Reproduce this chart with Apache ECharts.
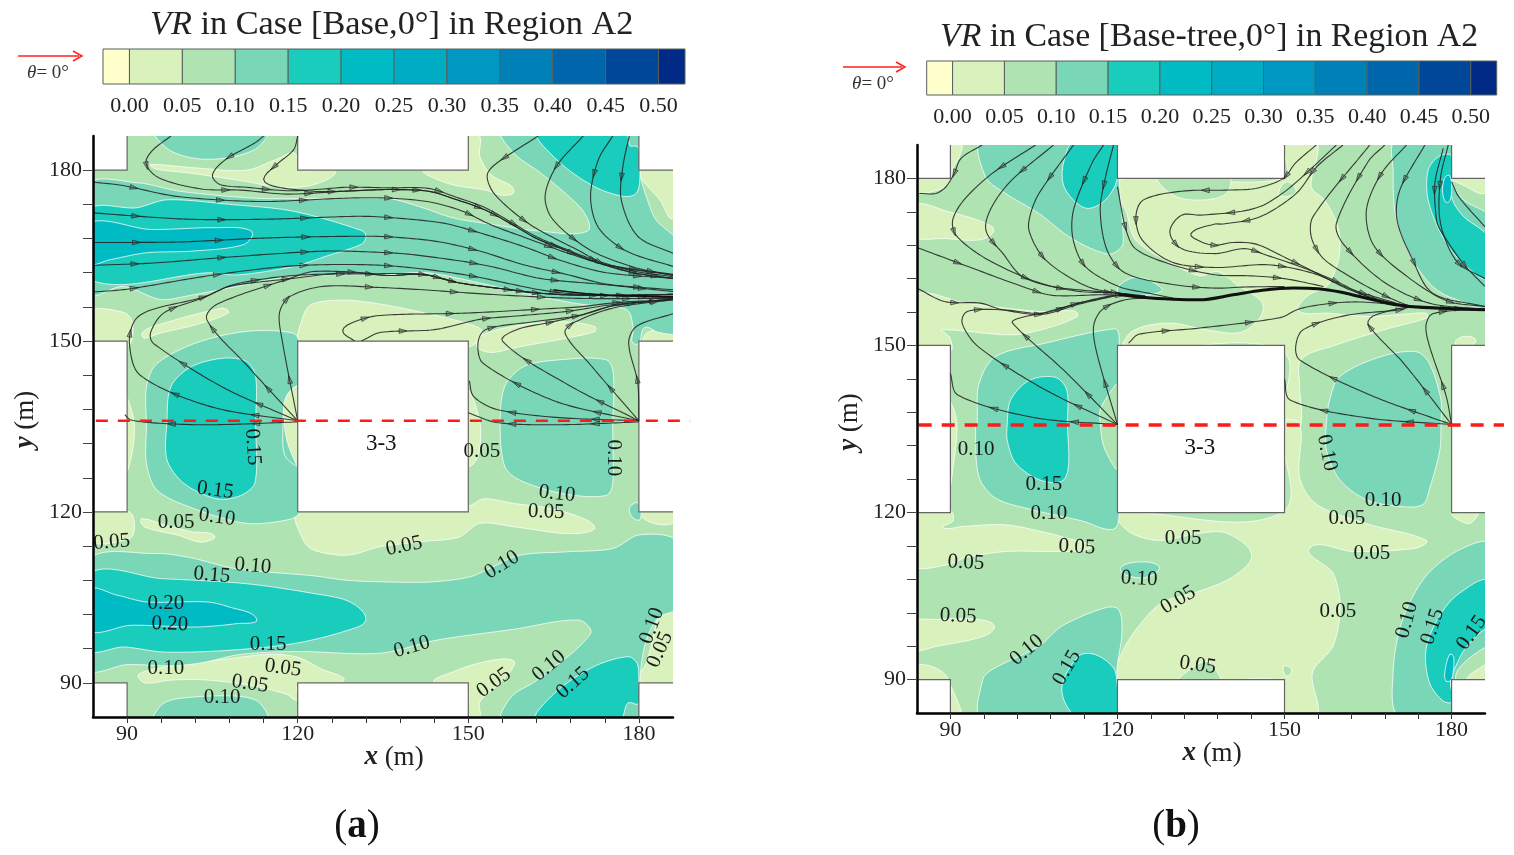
<!DOCTYPE html>
<html><head><meta charset="utf-8">
<style>html,body{margin:0;padding:0;background:#fff}#c{width:1514px;height:855px}</style>
<script src="https://cdn.jsdelivr.net/npm/echarts@6/dist/echarts.min.js"></script>
</head><body><div id="c"></div>
<script>
// ---------- legend ----------
const barEdges=[-0.025,0,0.05,0.10,0.15,0.20,0.25,0.30,0.35,0.40,0.45,0.50,0.525];
const barTicks=[0,0.05,0.10,0.15,0.20,0.25,0.30,0.35,0.40,0.45,0.50];
const bandColors=['#ffffcc','#d9f1bc','#afe3b2','#79d6b7','#1accbc','#00bbc4','#00acc4','#0098c2','#0082b8','#0066ab','#00479a','#002a85'];
// ---------- axes ----------
const axisMin=84, axisMax=186, axisStep=6;
const majorTicks=[90,120,150,180];
// ---------- buildings (metres) ----------
const buildings=[[84,84,90,90],[120,84,150,90],[180,84,186,90],[84,120,90,150],[120,120,150,150],[180,120,186,150],[84,180,90,186],[120,180,150,186],[180,180,186,186]];
const buildingEdges=[[[84,90],[90,90],[90,84]],[[120,84],[120,90],[150,90],[150,84]],[[186,90],[180,90],[180,84]],[[84,120],[90,120],[90,150],[84,150]],[[120,120],[150,120],[150,150],[120,150],[120,120]],[[186,120],[180,120],[180,150],[186,150]],[[84,180],[90,180],[90,186]],[[120,186],[120,180],[150,180],[150,186]],[[186,180],[180,180],[180,186]]];
const baseArea=[[80,80],[190,80],[190,190],[80,190]];

// ---------- panel (a): contour regions, metres ----------
const aPaleTop=[[94,181],[102,180.4],[111,180],[116.5,182],[119.5,183],[120.5,180],[126.5,180],[123,177.5],[117,177],[111,178],[101,179.5],[95,180.2]];
const aPaleAlley=[[142,180],[149,180.5],[150,186],[152,186],[152,182.5],[154,179.2],[157.6,177.2],[158,176],[156,175.6],[153,176.5],[147,177.5],[142.7,179.2]];
const aPaleCorner=[[180,180],[187,180],[186,171.6],[183.7,174.8],[181,177.8]];
const aPaleW=[[83,155],[89.5,155],[91,153],[90,149],[83,149]];
const aPaleLobe=[[92.6,151.4],[94.7,152.6],[106.9,155.8],[107.9,155],[102.2,152.9],[95.8,151.4],[93,150.5]];
const aPaleMid=[[120.5,149],[121,154.5],[122.5,156.5],[128,157.2],[134.5,156.5],[142,155],[150,153],[152.5,151.5],[150,149]];
const aPaleLobe2=[[152,150.8],[158,152.6],[167,153.4],[172.3,152.5],[172.3,151.7],[167.7,150.6],[158,148.8],[154,148],[151.5,149]];
const aPaleCol1=[[89.8,140],[91,137],[91.3,134],[90.8,130],[89.8,127]];
const aPaleCol2=[[117.6,139],[118.5,141],[120.2,142],[120.2,128],[119,130],[118,133],[117.6,136]];
const aPaleCol3=[[149.8,141],[152,136],[152,131],[151,128.5],[149.8,128]];
const aPaleSW=[[83,120.5],[90.4,120],[91.3,117.3],[90.4,115.3],[83,115]];
const aPaleSW2=[[92.5,118.8],[97,117.6],[101.5,116.5],[105.4,115.8],[103,114.7],[99,115.9],[93,117.4]];
const aPaleS=[[120,120],[121,115],[122.8,113.3],[128.7,112.4],[134.5,113.9],[142,114.8],[148.4,115.6],[152,118],[158,117.4],[167.5,116.2],[172.2,117],[171,118.5],[165,120.5],[158,121.5],[152.6,122.3],[150,121]];
const aPaleLow=[[92,91.5],[98,93],[106,94],[115,95],[120,94.5],[124,92.5],[128,90.3],[120,89.5],[120,87],[118,88],[112,89.5],[104,90.5],[98,90.5],[93,90]];
const aPaleLow2=[[144,90],[147,91.8],[152,93.5],[156.7,94.2],[158.2,93.5],[155.6,90],[152,86.6],[152,84],[149.8,84],[149.8,89]];
const aPaleE=[[187,103.6],[183.5,101.5],[182.5,98],[181.5,94],[180,89.5],[187,89.5]];
const aPaleNE=[[180,120.3],[187,120.3],[186,118],[182.5,118],[180.2,119.4]];
const aPaleSE=[[181,151],[183,152],[186,151.7],[187,149],[181,149]];
const aB3Top=[[95,187],[97.3,183.6],[102.5,182],[108.4,182.3],[113,184],[114.6,187]];
const aB3Jet=[[83,177.2],[91.7,177.8],[99.3,176.3],[112.2,175.1],[122.7,175],[136,175],[142,173.4],[147.4,171.6],[154,170.5],[162.6,169.3],[171,169.3],[170.4,172.5],[167,176],[162.6,179.6],[158,183],[155.9,187],[180,187],[180.2,179.5],[181.3,175.4],[183,171.3],[187,167],[187,151.7],[183.5,151.5],[181,152.4],[180,149.5],[178.8,149.8],[179,152],[178,155.4],[174.3,156],[169,156.6],[159.7,158.4],[152,160.2],[142.7,162],[136,161.7],[119.2,161.4],[109.3,159.6],[100.5,157.9],[95.8,157.3],[89.3,159.6],[83,158.4]];
const aB3Alley=[[93.4,135],[93.4,142],[95.2,146],[102.2,149.7],[111,151.7],[119.2,151.4],[120.3,149.7],[120.3,128],[119.8,128],[117.7,130],[117.4,135],[118,140.3],[120.2,142],[120.3,120],[118.6,118.7],[111,118],[101.7,120.6],[95.3,123.8],[93.4,128.5]];
const aB3Alley2=[[155.6,135.5],[156.4,142],[159.7,145.5],[166,146.7],[174.3,146.7],[175.5,144.3],[175.4,135],[175.4,125],[174.3,122.9],[166.7,123.2],[159,125.6],[156.4,128]];
const aB3Dot=[[178.3,120.6],[179.6,121.7],[180.2,121],[180.2,118.6],[179,118.9]];
const aB3Low=[[83,111.2],[95,112.7],[101,112],[109.3,110],[122.7,108.8],[128.6,108],[136,107.7],[143.3,107.7],[150.3,108.6],[154.4,110.4],[159,112.4],[167.3,113],[175.5,113.6],[180.2,116],[187,114.5],[187,103.3],[183.5,101.5],[181.3,97.5],[180.2,91],[180.2,84],[156,83],[157.5,87.5],[162,90.4],[171.5,98.6],[169.5,101],[158,99.4],[144.5,97.5],[134.5,95.2],[120,95.5],[110,95],[103,93.5],[98,93],[90,93.2],[83,92.6]];
const aB3Bot=[[94.8,83],[96.4,86.4],[101.7,87.5],[110,87.6],[113.4,86.4],[114.6,83]];
const aB4Jet=[[83,172.8],[91.7,173.4],[97,174.8],[108,174],[119.2,172.8],[131.5,169.3],[132,168.2],[131.2,167],[125.3,165],[119.3,163.1],[109.3,161.6],[104.6,162],[83,161]];
const aB4NE=[[162.3,187],[165.5,181.9],[172,177.2],[177.3,175.4],[179.6,176],[180.2,179.5],[179.8,184.2],[178.5,184.2],[177.5,187]];
const aB4Alley=[[97,135.7],[97.7,142],[101.3,145.5],[107,147],[111,146.4],[112.6,143.8],[112.6,135.5],[112.5,125.2],[110,122.9],[105.8,122.3],[100,125],[97,129.2]];
const aB4Low=[[83,108.9],[96,108.3],[111,107.4],[122.7,105.7],[129.2,104.2],[132,101.1],[128.7,99.2],[119.4,96.9],[107.7,95.7],[96.5,95.4],[89.4,96.3],[83,96]];
const aB4SE=[[162,83],[165,88],[172,92.8],[178.1,94.6],[179.7,93.4],[180,90.3],[180,86.3],[178.1,86.5],[176.4,83]];
const aB5Jet=[[83,170.6],[94,169.6],[105.3,169.9],[111.9,169.3],[110.7,167],[101.6,165.8],[93.4,165.5],[87,164.3],[83,163.7]];
const aB5Low=[[83,106.3],[88.2,105.4],[93.4,104.2],[104,104.2],[108,103.3],[112.8,101.2],[109.3,100.4],[102.2,99.8],[90.6,100.1],[83,99.3]];
// [band index into bandColors, region]
const aRegions=[[2,baseArea],[1,aPaleTop],[1,aPaleAlley],[1,aPaleCorner],[1,aPaleW],[1,aPaleLobe],[1,aPaleMid],[1,aPaleLobe2],[1,aPaleCol1],[1,aPaleCol3],[1,aPaleSW],[1,aPaleSW2],[1,aPaleS],[1,aPaleLow],[1,aPaleLow2],[1,aPaleE],[1,aPaleNE],[1,aPaleSE],
 [3,aB3Top],[3,aB3Jet],[3,aB3Alley],[3,aB3Alley2],[3,aB3Dot],[3,aB3Low],[3,aB3Bot],[1,aPaleCol2],[4,aB4Jet],[4,aB4NE],[4,aB4Alley],[4,aB4Low],[4,aB4SE],[5,aB5Jet],[5,aB5Low]];

// ---------- panel (a): streamlines, metres, in flow direction ----------
const aTailA=[[136,176.6],[143,176.3],[148,174.8],[153,173],[158,170.3],[162,168],[167,166],[172,164],[179,162],[186,161]];
const aTailB=[[136,176.9],[143,176.8],[148,175.2],[153,173.4],[158,170.6],[162,168.3],[167,166.2],[172,164.3],[179,162.3],[186,161.3]];
const aTailC=[[136,161.5],[142,161.7],[148.5,160.2],[155,159.3],[162.6,158.4],[172,158],[186,158.2]];
const aTailD=[[169.6,154.5],[175.5,156.2],[186,157.4]];
const aStreams=[
 [[97.7,186],[94.5,183.5],[93.3,181.3],[95,179],[99,177.5],[104,176.6],[110,176.5],[118,175.8],[128,176.3]].concat(aTailA),
 [[114,186],[112.5,184.8],[107.5,182],[105,179.2],[106.3,177.5],[111,177],[118,176.4],[123.3,176.6],[128.6,177]].concat(aTailB),
 [[120,186],[119.3,183.6],[116.3,181],[114,178.4],[115.7,177.2],[122.7,176.3],[128,176.3]].concat(aTailA),
 [[84,177.9],[89.3,177.3],[98.7,175.4],[113.4,174.5],[128.6,175.1],[136,175.1],[143.3,174.4],[149,172.8],[154,170.4],[161,167.8],[167.3,165.5],[174.3,163.4],[186,161.7]],
 [[84,172.5],[100.5,171.4],[115,171.4],[130.4,171.9],[136,171.7],[145.6,170.7],[152,169],[159.7,166.6],[166.7,164],[174.3,162],[186,161]],
 [[84,167.3],[99.3,167.4],[114.5,168.1],[129.8,168.4],[136,168.3],[144.4,167.5],[152,165.8],[159.7,163.4],[167.3,161.7],[174.3,160],[186,159]],
 [[84,163.3],[94.6,163.7],[110,164.9],[125.3,165.8],[136,165.5],[140,165.2],[149,164],[154.4,163],[162.6,161],[173,160],[186,158.7]],
 [[84,158.6],[90,159.1],[104.6,161.5],[119.2,163.2],[134.7,163.3],[149,161.7],[162.6,159],[169.6,158.2],[186,157.6]],
 [[120,136],[105,138.4],[92.3,144],[90.4,149.6],[91.4,153.7],[94.3,155.5],[103.4,157.7],[108,159.6],[119.2,161],[128.6,162]].concat(aTailC),
 [[120,136],[107,141.8],[94.6,149.6],[94.1,151.4],[96.4,154.9],[103.4,157.6],[108.7,159.9],[119.2,161.5],[133,161.8]].concat(aTailC.slice(1)),
 [[120,136],[111,145.8],[104,153.8],[105.7,156.4],[118.6,161],[122.7,162.2],[131.5,162]].concat(aTailC),
 [[120,136],[117.2,150.5],[116.8,155],[118.6,157.8],[124.5,159.6],[134.5,159.4],[142,159],[153.8,158.2],[169,157.5],[186,157.5]],
 [[130,150],[127.9,151.8],[130,153.4],[134.5,154.5],[149.4,154.9],[164.4,155.7],[169.6,156],[175.5,156.7],[186,157.3]],
 [[131.2,150],[134.5,151.5],[144,152],[152,153.8],[158.5,154.4],[167.3,155.2],[175.5,156.4],[186,157.2]],
 [[180,136],[165.4,139.4],[152.6,146.1],[151.7,149.7],[153,152],[160.8,153.3]].concat(aTailD),
 [[180,136],[167.6,142.3],[156,150],[158.5,152],[165,153.4]].concat(aTailD),
 [[180,136],[171.5,145.8],[167,151.4],[168.5,153.2],[175.5,155.8],[186,157.3]],
 [[180,136],[179.8,142.7],[178.2,149.7],[179.6,152.6],[186,154.8]],
 [[180,135.8],[165.4,135.3],[155,135.7],[150,137.4]],
 [[180,136],[165.4,136.6],[155,138],[150.9,140.3],[150.2,143]],
 [[120,135.8],[104.5,135.3],[95.2,135.6],[90.5,136.2],[89.6,137.1]],
 [[162.3,186],[154.7,181],[153.3,179],[154.7,175.7],[160.8,170.5],[169.6,165.8],[174.3,163.4],[186,161.6]],
 [[170.2,186],[165.5,180.7],[163.5,175.4],[164.9,171.3],[171.4,166],[179,163],[186,161.5]],
 [[175.4,186],[172.9,181.9],[171.5,175.4],[172.9,169.9],[177.8,165.8],[186,163.1]],
 [[178.3,186],[177.2,180.7],[176.9,174.8],[179.8,168.4],[186,165.4]]
];
const aThick=[[165,159],[172,158.2],[186,157.8]];

// ---------- panel (b): contour regions, metres ----------
const bPaleN=[[120,179.7],[150,180],[150,187],[155.7,187],[154.8,178.5],[157.2,176.1],[159.6,171.3],[159.9,166.6],[158.7,162.4],[157.5,160.6],[154,158.8],[152.5,156.2],[158,155.8],[165,155.2],[170,155.5],[175.5,155.8],[175.7,155],[168.5,153],[159,150],[153,147.5],[152.7,143],[152.7,135],[149.5,135],[149.5,149],[121,149],[122,152],[125,153.5],[130,154],[136,152.8],[142.6,152.5],[146.2,157],[141.4,160.9],[138,163.3],[134.8,162.5],[128.5,165.4],[123.2,169],[121.7,173.7]];
const bLobeN=[[127.3,180.5],[139.9,180.5],[139.6,177.3],[134.8,176.1],[130,177]];
const bLobeDot=[[148.9,177.3],[150.4,179.4],[152.1,177.6],[150,176.7]];
const bPaleS=[[120,119.8],[122,116.6],[127.3,115],[134.8,116.3],[139.6,116.3],[144.1,112.4],[140.8,108.5],[134.8,105.9],[128,103.8],[123.8,99.6],[120.8,94.8],[119.9,90],[138,89.5],[149.5,89.5],[149.5,83],[155.7,83],[155,91.2],[158.7,96],[160,103.1],[158.7,109.1],[154.5,113.6],[162.3,113],[173.6,113.6],[175.5,115],[164.7,118],[155.7,121.5],[152.7,126.3],[152.7,136],[149.5,136],[149.5,120]];
const bLobeS=[[131,89.5],[133.3,92],[136,93.3],[137.2,92.3],[138.4,89.5]];
const bLobeSDot=[[149.8,92.4],[151.3,91.8],[150.4,90.6]];
const bPaleTL=[[89.6,186.5],[92,186.5],[91.5,183.7],[90.5,182],[90,179.5],[88,178],[83,177.5],[83,180.5],[89.6,180.5]];
const bPaleW1=[[83,175.2],[89.7,174],[95.7,172.2],[97.8,170.7],[95.4,169],[89.2,169.2],[83,169.8]];
const bPaleW2=[[83,158.8],[92.8,157.6],[105.9,156.1],[112.4,156.2],[112.8,155.2],[107,153],[101,151.9],[88.3,152.8],[89.8,151.6],[90,149],[83,149]];
const bPaleCol1=[[89.7,140],[90.8,138],[91.2,135],[90.6,129],[89.7,124]];
const bPaleNE=[[180,180.3],[187,180.3],[186,177.3],[182.7,178.5]];
const bPaleE=[[180.6,150.3],[182,151.6],[184.4,151],[183,149.8]];
const bPaleE2=[[180,120.3],[183,118],[184.7,119.5],[184.7,120.3]];
const bPaleSW1=[[83,120.3],[90,120.3],[90.5,118.5],[88.6,117.3],[92.1,117.5],[99.9,117.8],[107.6,116.3],[110.5,115.5],[115.4,114],[114,113.2],[108.7,113],[99.9,113],[92.7,111.9],[89.8,110.7],[83,110.7]];
const bPaleSW2=[[83,100.2],[87.6,100.8],[95,100.8],[97.9,99.6],[96,97.8],[87.6,96],[83,95.5]];
const bPaleSW3=[[83,89.5],[83,92.4],[86.5,92.4],[89,91],[90,89],[91.7,85],[92,83],[89.7,83],[89.7,89.5]];
const bB3Top=[[95.8,187],[96.3,180.3],[99.9,177.3],[105.9,173.7],[111.8,169.2],[118.4,166.4],[120.8,167.8],[121,170.1],[120.3,180],[120.3,187]];
const bB4Top=[[112.4,187],[110.3,182.7],[110.3,178.8],[112.4,175.8],[114.8,174.6],[117.8,176.1],[119.9,179.7],[120.3,187]];
const bB3Dot=[[120.2,160.6],[122.6,162.1],[125.5,161.8],[127.9,159.7],[120.2,159.3]];
const bB3Alley=[[94.8,135.8],[95.1,143],[98.1,148],[107,150.4],[119.6,153],[120.3,151.6],[120.3,120],[119.3,117],[113.6,118.5],[104.7,120.5],[98.1,122.6],[95.1,126.5],[94.5,135.7]];
const bB2Col=[[116.9,138.5],[119.7,143],[120.3,143],[120.3,128],[119.7,127.8],[117.5,132],[116.9,136]];
const bB4Alley=[[100.2,135.8],[100.8,140.2],[104.1,143.7],[108.8,144.3],[110.9,142],[111,135.8],[111.2,128.3],[110,125.6],[105.9,125.9],[101.7,128.9],[100.2,133]];
const bB3Alley2=[[157.5,135.8],[158.1,140.2],[159.9,144.4],[167,147.9],[173.6,148.9],[176,146.8],[178.1,140.2],[178.1,135.8],[177.9,131.3],[176,124.1],[174.8,121.4],[170.7,121.1],[164.7,122.3],[159.9,125.9],[157.5,131.3]];
const bB3NE=[[170,187],[169.5,181.5],[170,173],[173,165.4],[176.6,160.6],[180.2,158.5],[187,157.3],[187,172.8],[182.2,176.1],[180,179.7],[180,187]];
const bB4NE=[[177.8,184],[175.8,181.5],[175.8,176.1],[178.4,169.5],[182,164.8],[187,162.1],[187,169],[182,173.3],[180,176.7],[180,184]];
const bB5NE=[[178.7,180],[179.6,180.6],[180,178],[179.3,175.6],[178.4,177.3]];
const bB3Low=[[95.8,83],[95.8,90],[97.5,91.8],[105.9,96],[110,99.6],[117.8,102.9],[120.2,102.6],[120.8,98.4],[119.9,91.8],[119.7,83]];
const bB4Low=[[113,83],[110,88.2],[113,94.2],[116,94.5],[119.3,92.1],[119.9,89.4],[119.9,83]];
const bB3Mid=[[120.5,110],[122.6,111],[126.1,111],[127.6,110],[125,108.3],[121.5,108.8]];
const bB3SE=[[187,114.2],[181.4,113.3],[175.4,108.6],[171.2,100.8],[169.5,91.3],[170.7,83],[180,83],[180,90],[187,97]];
const bB4SE=[[187,107.6],[181.4,105.5],[177.8,101.4],[175.4,95.4],[176,89.5],[178.4,86.2],[180,86],[180,90.5],[187,98.2]];
const bB3SE2=[[180,90.6],[182.7,95.9],[187,98.8],[187,89.5],[180,89.5]];
const bB2SE=[[181,91.5],[183.9,94.4],[187,95.6],[187,89.5],[181,89.5]];
const bPaleSE=[[182.7,89.5],[186,92.7],[187,93],[187,89.5]];
const bB5SE=[[178.8,91.4],[179.7,94.6],[180.4,94],[180,90],[179,89.7]];
const bRegions=[[2,baseArea],[1,bPaleN],[2,bLobeN],[2,bLobeDot],[1,bPaleS],[2,bLobeS],[2,bLobeSDot],[1,bPaleTL],[1,bPaleW1],[1,bPaleW2],[1,bPaleCol1],[1,bPaleNE],[1,bPaleE],[1,bPaleE2],[1,bPaleSW1],[1,bPaleSW2],[1,bPaleSW3],
 [3,bB3Top],[3,bB3Dot],[3,bB3Alley],[2,bB2Col],[3,bB3Alley2],[3,bB3NE],[3,bB3Low],[3,bB3Mid],[3,bB3SE],[4,bB4Top],[4,bB4Alley],[4,bB4NE],[4,bB4Low],[4,bB4SE],[3,bB3SE2],[2,bB2SE],[1,bPaleSE],[5,bB5NE],[5,bB5SE]];

// ---------- panel (b): streamlines ----------
const bTrunk=[[120.2,159.2],[125,158.6],[130,158.3],[134.8,158.2],[140.8,159.1],[146,159.9],[151.5,160.3],[156,160.2],[160,159.6],[165.9,158.2],[170,157.3],[175,156.8],[186,156.4]];
const bJoin=[[173,157],[180,156.6],[186,156.4]];
const bStreams=[
 [[95.7,186],[91.9,183.6],[90.7,180.9],[89.2,178.5],[87.4,177.3],[84.4,177.3]],
 [[105.3,186],[97.5,180.9],[92.4,176.1],[90.4,172.5],[91,169.8],[95.7,166],[102.9,162.4],[108.3,160.6],[113,160],[120.2,159.4],[125,158.9]],
 [[108.5,186],[99.9,178.5],[96.3,171.3],[99.6,166.3],[103.2,162.2],[112.4,159.8],[120.2,159.4],[125,158.7]],
 [[112.1,186],[105.9,177.3],[104.4,173.7],[104.1,170.7],[106.5,166],[110.6,162.7],[115.4,160.3],[120.2,159.4],[125,158.7]],
 [[117.5,186],[115.4,182.7],[112.1,174.3],[112,169.2],[114.2,164.2],[120.2,160.6],[125.5,159.4],[130,158.5]],
 [[119.3,186],[117.8,180],[116.9,174.3],[118.1,167.2],[121.4,163],[130.3,160.9],[137.5,160.3],[143,160.5],[150,160.6]],
 [[120,178.5],[121.4,171.3],[123.2,167.4],[129.8,164.5],[137.5,162.7],[144,162.5],[150,162],[157,160.6]],
 [[155.7,186],[151.9,182.7],[149.8,180],[144.8,178.2],[139.3,177.9],[131.5,177.7],[124.6,176.1],[123.3,173.1],[124.4,169],[129.7,165],[137.5,164],[147,164.5],[155,163],[161.7,160.2],[170,157.6]],
 [[159.3,186],[154.5,181.5],[150.4,177.9],[146.2,175.2],[142.3,174.1],[134.8,173.4],[131.5,173.4],[129.4,170.4],[131.5,167.4],[137.5,166.5],[142.9,167.4],[146.8,166.2],[152.7,164.2],[158.7,161.8],[165.9,158.4],[173,157]],
 [[160.5,186],[155.8,182.1],[152.1,177.3],[145.6,173.1],[139,171.8],[137.5,171.8],[133.2,170.1],[135.1,168.6],[137.5,168],[140.8,168.5],[144.9,168.2],[149.7,166],[156.9,162.4],[161.7,160],[168.3,157.9],[173.6,157],[186,156.4]],
 [[165.3,186],[155.1,173.1],[154.8,169.5],[156.9,165.7],[161.7,162.4],[167.1,159.4]].concat(bJoin),
 [[168,186],[165,183],[159.3,171.9],[160.5,168.3],[167.7,161.5],[176,157.6],[186,156.5]],
 [[171.9,186],[167.4,180.9],[164.7,174.3],[166,168],[172,162.4],[179.2,158],[186,157]],
 [[175.2,186],[170.7,177.9],[170.2,172.5],[173,165.4],[176.6,159.4],[186,157]],
 [[178.5,185.4],[177,179.1],[177.3,172.5],[178,170.7],[182,164.8],[186,160.6]],
 [[179.4,186],[178,180],[178,172],[181,165],[186,162]],
 [[180,179.4],[181.3,176.7],[186,171.3]],
 [[180,135.8],[165.6,141],[152.7,147.4],[152,149.8],[153.3,152.8],[161.1,155.4],[170.7,156.4]].concat(bJoin),
 [[180,135.8],[171.4,146.8],[165,153.8],[165.9,155.3]].concat(bJoin),
 [[180,135.8],[179,141],[176,150],[175.4,153.6],[176.6,155.7],[186,156.6]],
 [[180,135.8],[164.8,137],[151,140.2],[150,143.9]],
 [[122,150.4],[123.8,152],[134.5,153.1],[149.2,155],[152.7,156.6],[158.7,157.6],[164,157.8],[173,157]],
 [[120,135.8],[107.1,142],[95.1,149.7],[92.1,154],[93,156.1],[99.4,156.4],[106.5,155.8],[113,157.6],[120.2,159.1],[125,158.7]],
 [[120,135.8],[110.3,145.6],[101.1,154.1],[102.3,154.9],[106.5,155.8],[113,157.6],[120.2,159.1]],
 [[120,135.8],[116.3,148.6],[115.7,153.4],[117.2,156.4],[121.4,158.2],[127,158.5]],
 [[120,135.8],[105.3,137],[91.3,141.1],[90,145]],
 [[84,167.6],[93.9,163.9],[102.9,160.6],[108.3,159],[117.8,159.1],[125,158.7]],
 [[84,160.3],[88.9,157.9],[95.4,157.6],[99.4,156.4],[106.5,155.6],[113,157.4],[120,159]]
];

// ---------- annotations ----------
const sectionY=[136,135.7];
const sectionName='3-3', sectionPos=[[134.7,131.9],[134.8,131.6]];
const aLabels=[['0.15',112.1,131.4,-86],['0.15',105.5,123.8,-8],['0.10',105.8,119.1,-8],['0.05',98.6,118.2,0],['0.05',87.3,114.7,4],['0.10',112.1,110.5,-5],['0.15',104.9,108.9,-5],['0.20',96.8,104,0],['0.20',97.5,100.3,-2],['0.15',114.8,96.8,0],['0.10',96.8,92.6,0],['0.05',117.4,92.6,-8],['0.05',111.6,89.8,-8],['0.10',106.7,87.5,0],['0.05',152.4,130.7,0],['0.10',175.5,129.5,-90],['0.10',165.6,123.2,-6],['0.05',163.7,120,-2],['0.05',138.7,114,12],['0.10',155.9,110.7,32],['0.10',140.1,96.3,16],['0.05',154.5,90,36],['0.10',164.2,93,40],['0.15',168.4,90,42],['0.10',182.3,100,70],['0.05',183.7,95.8,66]];
const bLabels=[['0.10',94.6,131.4,0],['0.15',106.8,125.1,0],['0.10',107.7,119.8,0],['0.05',112.7,113.8,-3],['0.05',92.8,111,-3],['0.10',123.9,108.1,-3],['0.05',131.8,115.3,0],['0.05',91.4,101.4,-3],['0.05',130.9,104.3,30],['0.10',103.7,95.3,40],['0.15',110.9,92.1,60],['0.05',134.4,92.6,-8],['0.10',157.6,130.7,-78],['0.10',167.7,122.1,0],['0.05',161.2,119,0],['0.05',165.7,112.6,0],['0.05',159.6,102.3,0],['0.10',172,100.7,75],['0.15',176.6,99.5,72],['0.15',183.6,98.4,55]];

// ---------- helpers ----------
const SERIF='"Liberation Serif","Times New Roman",serif';
function spline(p,closed){
  const n=p.length,out=[];
  const get=i=>closed?p[(i+n)%n]:p[Math.max(0,Math.min(n-1,i))];
  const dir=i=>{const a=get(i-1),b=get(i+1);const dx=b[0]-a[0],dy=b[1]-a[1];const l=Math.hypot(dx,dy)||1;return [dx/l,dy/l];};
  const segs=closed?n:n-1;
  for(let i=0;i<segs;i++){
    const a=get(i),b=get(i+1),d=Math.hypot(b[0]-a[0],b[1]-a[1]);
    const t0=dir(i),t1=dir(i+1),m=d*0.9,steps=Math.max(2,Math.ceil(d/4));
    for(let k=0;k<steps;k++){
      const t=k/steps,t2=t*t,t3=t2*t;
      const h00=2*t3-3*t2+1,h10=t3-2*t2+t,h01=-2*t3+3*t2,h11=t3-t2;
      out.push([h00*a[0]+h10*m*t0[0]+h01*b[0]+h11*m*t1[0],h00*a[1]+h10*m*t0[1]+h01*b[1]+h11*m*t1[1]]);
    }
  }
  if(!closed)out.push(p[n-1]);
  return out;
}
function regionSeries(regions,g){
  return {type:'custom',xAxisIndex:g,yAxisIndex:g,z:1,clip:true,silent:true,
    data:regions.map((r,i)=>[r[1][0][0],r[1][0][1],i]),
    renderItem(params,api){
      const r=regions[params.dataIndex];
      const pts=r[1].map(q=>api.coord(q));
      const cl=r[1]===baseArea?pts:spline(pts,true);
      return {type:'polygon',shape:{points:cl},style:{fill:bandColors[r[0]],stroke:r[1]===baseArea?null:'rgba(255,255,255,0.75)',lineWidth:1}};
    }};
}
function buildingSeries(g){
  return [{type:'custom',xAxisIndex:g,yAxisIndex:g,z:2,clip:true,silent:true,
    data:buildings.map(b=>[b[0],b[1],b[2],b[3]]),
    renderItem(params,api){
      const a=api.coord([api.value(0),api.value(3)]),b=api.coord([api.value(2),api.value(1)]);
      return {type:'rect',shape:{x:a[0],y:a[1],width:b[0]-a[0],height:b[1]-a[1]},style:{fill:'#fff'}};
    }},
   {type:'custom',xAxisIndex:g,yAxisIndex:g,z:3,clip:false,silent:true,
    data:buildingEdges.map((e,i)=>[e[0][0],e[0][1],i]),
    renderItem(params,api){
      return {type:'polyline',shape:{points:buildingEdges[params.dataIndex].map(q=>api.coord(q))},style:{fill:null,stroke:'#666',lineWidth:1.2}};
    }}];
}
function streamSeries(streams,g){
  return {type:'custom',xAxisIndex:g,yAxisIndex:g,z:4,clip:true,silent:true,
    data:streams.map((s,i)=>[s[0][0],s[0][1],i]),
    renderItem(params,api){
      const path=spline(streams[params.dataIndex].map(q=>api.coord(q)),false);
      const kids=[{type:'polyline',shape:{points:path},style:{fill:null,stroke:'rgba(35,35,35,0.88)',lineWidth:1.1}}];
      let run=0,next=40;
      for(let i=1;i<path.length;i++){
        const a=path[i-1],b=path[i],d=Math.hypot(b[0]-a[0],b[1]-a[1]);
        run+=d;
        if(run>=next&&d>0){
          next+=85;
          if(path.length-i<6)continue;
          const ux=(b[0]-a[0])/d,uy=(b[1]-a[1])/d,L=8,W=2.4;
          kids.push({type:'polygon',shape:{points:[[b[0]+ux*L/2,b[1]+uy*L/2],[b[0]-ux*L/2-uy*W,b[1]-uy*L/2+ux*W],[b[0]-ux*L/2+uy*W,b[1]-uy*L/2-ux*W]]},style:{fill:'rgba(70,90,80,0.35)',stroke:'rgba(30,30,30,0.9)',lineWidth:0.7}});
        }
      }
      return {type:'group',children:kids};
    }};
}
function thickLine(points,g,w){
  return {type:'line',xAxisIndex:g,yAxisIndex:g,data:points,smooth:0.3,showSymbol:false,symbol:'none',z:5,silent:true,lineStyle:{color:'#111',width:w}};
}
function labelSeries(labels,g){
  return {type:'custom',xAxisIndex:g,yAxisIndex:g,z:6,clip:false,silent:true,
    data:labels.map(l=>[l[1],l[2],l[3]]),
    renderItem(params,api){
      const c=api.coord([api.value(0),api.value(1)]);
      return {type:'text',x:c[0],y:c[1],rotation:api.value(2)*Math.PI/180,
        style:{text:labels[params.dataIndex][0],x:0,y:0,fill:'#1a1a1a',fontFamily:SERIF,fontSize:21,align:'center',verticalAlign:'middle'}};
    }};
}
function redLine(y,g,w,dash,x0,x1){
  return {type:'custom',xAxisIndex:g,yAxisIndex:g,clip:false,z:8,silent:true,data:[[x0,y,x1,y]],
    renderItem(params,api){
      const a=api.coord([api.value(0),api.value(1)]),b=api.coord([api.value(2),api.value(3)]);
      return {type:'line',shape:{x1:a[0],y1:a[1],x2:b[0],y2:b[1]},style:{stroke:'#ff1a1a',lineWidth:w,lineDash:dash}};
    }};
}
function sectionLabel(pos,g){
  return {type:'scatter',xAxisIndex:g,yAxisIndex:g,data:[pos],symbolSize:0,z:6,silent:true,itemStyle:{opacity:1},
    label:{show:true,position:'inside',opacity:1,formatter:sectionName,fontFamily:SERIF,fontSize:23,color:'#111'}};
}
function legendSeries(g){
  return {type:'custom',xAxisIndex:g,yAxisIndex:g,z:3,clip:false,silent:true,
    data:bandColors.map((c,i)=>[barEdges[i],barEdges[i+1]]),
    renderItem(params,api){
      const a=api.coord([api.value(0),1]),b=api.coord([api.value(1),0]);
      return {type:'rect',shape:{x:a[0],y:a[1],width:b[0]-a[0],height:b[1]-a[1]},style:{fill:bandColors[params.dataIndex],stroke:'#55605c',lineWidth:1}};
    }};
}
function panelX(g){
  return {type:'value',gridIndex:g,z:10,min:axisMin,max:axisMax,interval:axisStep,splitLine:{show:false},
    name:'{b|x} (m)',nameLocation:'middle',nameGap:27,nameMoveOverlap:false,
    nameTextStyle:{fontFamily:SERIF,fontSize:27,color:'#222',padding:[0,0,0,22],rich:{b:{fontFamily:SERIF,fontSize:27,fontWeight:'bold',fontStyle:'italic',color:'#222'}}},
    axisLine:{onZero:false,lineStyle:{color:'#000',width:2.5}},axisTick:{length:6,lineStyle:{color:'#333',width:1}},
    axisLabel:{margin:6,hideOverlap:false,showMinLabel:false,showMaxLabel:false,fontFamily:SERIF,fontSize:22,color:'#222',formatter:v=>majorTicks.includes(v)?String(v):''}};
}
function panelY(g){
  return {type:'value',gridIndex:g,z:10,min:axisMin,max:axisMax,interval:axisStep,splitLine:{show:false},
    name:'{b|y} (m)',nameLocation:'middle',nameGap:54,nameRotate:90,nameMoveOverlap:false,
    nameTextStyle:{fontFamily:SERIF,fontSize:27,color:'#222',padding:[0,0,0,14],rich:{b:{fontFamily:SERIF,fontSize:27,fontWeight:'bold',fontStyle:'italic',color:'#222'}}},
    axisLine:{onZero:false,lineStyle:{color:'#000',width:2.5}},axisTick:{length:10,lineStyle:{color:'#444',width:1}},
    axisLabel:{margin:11,showMinLabel:false,showMaxLabel:false,fontFamily:SERIF,fontSize:22,color:'#222',formatter:v=>majorTicks.includes(v)?String(v):''}};
}
function legendX(g){
  return {type:'value',gridIndex:g,min:barEdges[0],max:barEdges[barEdges.length-1],splitLine:{show:false},axisLine:{show:false},
    axisTick:{show:false},axisLabel:{customValues:barTicks,margin:11,fontFamily:SERIF,fontSize:22,color:'#222',formatter:v=>v.toFixed(2)}};
}
function legendY(g){return {type:'value',gridIndex:g,min:0,max:1,show:false};}
function titleOf(txt,left,top,size){
  return {text:'{i|VR}{r| in Case ['+txt+',0°] in Region A2}',left,top,textStyle:{fontWeight:'normal',rich:{
    i:{fontFamily:SERIF,fontStyle:'italic',fontWeight:'normal',fontSize:size,color:'#222'},r:{fontFamily:SERIF,fontWeight:'normal',fontSize:size,color:'#222'}}}};
}
function windArrow(x0,x1,y){
  return [{type:'line',silent:true,shape:{x1:x0,y1:y,x2:x1-3,y2:y},style:{stroke:'#ff2020',lineWidth:1.6}},
          {type:'polyline',silent:true,shape:{points:[[x1-9,y-5],[x1,y],[x1-9,y+5]]},style:{fill:null,stroke:'#ff2020',lineWidth:1.5}}];
}
function thetaText(x,y){
  return {type:'text',silent:true,x,y,style:{text:'{i|θ}{r|= 0°}',align:'center',verticalAlign:'middle',rich:{i:{fontFamily:SERIF,fontStyle:'italic',fontSize:19,fill:'#333'},r:{fontFamily:SERIF,fontSize:19,fill:'#333'}}}};
}
function subLabel(letter,x,y){
  return {type:'text',silent:true,x,y,style:{text:'{r|(}{b|'+letter+'}{r|)}',align:'center',verticalAlign:'middle',rich:{r:{fontFamily:SERIF,fontWeight:'normal',fontSize:39,fill:'#111'},b:{fontFamily:SERIF,fontSize:39,fontWeight:'bold',fill:'#111'}}}};
}

const chart=echarts.init(document.getElementById('c'));
const gridBase={outerBoundsMode:'none',containLabel:false};
chart.setOption({
  backgroundColor:'#fff',animation:false,
  title:[titleOf('Base',145,3,34.3),titleOf('Base-tree',935,15,33.8)],
  grid:[{left:93,top:136,width:580,height:581,...gridBase},{left:917,top:145,width:568,height:568,...gridBase},
        {left:103,top:49,width:582,height:35,...gridBase},{left:926.7,top:61,width:570,height:34,...gridBase}],
  xAxis:[panelX(0),panelX(1),legendX(2),legendX(3)],
  yAxis:[panelY(0),panelY(1),legendY(2),legendY(3)],
  series:[
    regionSeries(aRegions,0),...buildingSeries(0),streamSeries(aStreams,0),thickLine(aThick,0,1.6),labelSeries(aLabels,0),sectionLabel(sectionPos[0],0),redLine(sectionY[0],0,2.5,[12,10],84.5,189),
    regionSeries(bRegions,1),...buildingSeries(1),streamSeries(bStreams,1),thickLine(bTrunk,1,3),labelSeries(bLabels,1),sectionLabel(sectionPos[1],1),redLine(sectionY[1],1,3.5,[13,10],84.3,189.4),
    legendSeries(2),legendSeries(3)
  ],
  graphic:[...windArrow(18,82,56),thetaText(48,73),...windArrow(843,905,67),thetaText(873,84),subLabel('a',357,827),subLabel('b',1176,827)]
});
</script></body></html>
